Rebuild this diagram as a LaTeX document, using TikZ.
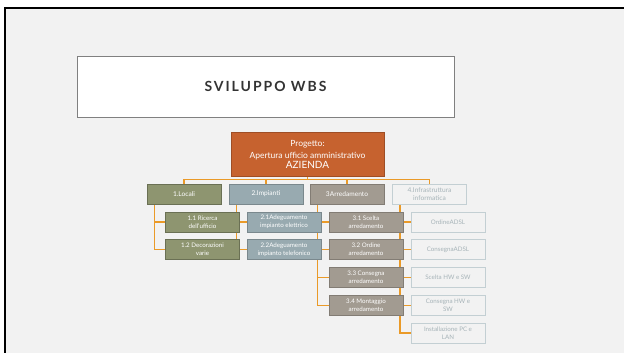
\documentclass[tikz,border=0pt]{standalone}
\usepackage{fontspec}
\setmainfont{Lato}
\newfontfamily\titlefont[LetterSpace=14]{Lato}
\usetikzlibrary{positioning,backgrounds}
\definecolor{slidegray}{HTML}{F2F2F2}
\definecolor{rootorange}{HTML}{C6622F}
\definecolor{olivebox}{HTML}{8E9570}
\definecolor{bluebox}{HTML}{98AAB0}
\definecolor{taupebox}{HTML}{A29B91}
\definecolor{paleline}{HTML}{C3CFD3}
\definecolor{paletext}{HTML}{A6B3B8}
\definecolor{linkorange}{HTML}{EA9A28}

\tikzset{
  wbsbox/.style={draw, line width=0.9pt, minimum width=74pt, minimum height=20pt,
    inner sep=1pt, align=center, text=white},
  lvlone/.style={wbsbox, font=\fontsize{6.6}{7.6}\selectfont},
  lvltwo/.style={wbsbox, font=\fontsize{6.2}{8.4}\selectfont},
  locali/.style={fill=olivebox, draw=olivebox!75!black},
  impianti/.style={fill=bluebox, draw=bluebox!80!black},
  arredo/.style={fill=taupebox, draw=taupebox!80!black},
  infra/.style={fill=slidegray, draw=paleline, text=paletext},
  link/.style={draw=linkorange, line width=1.3pt}
}

\begin{document}
\begin{tikzpicture}[x=1pt, y=-1pt]
\useasboundingbox (0,0) rectangle (624,353);

% title box
\node[draw=black!50, fill=white, line width=0.8pt, minimum width=377pt, minimum height=61pt,
  font=\titlefont\fontsize{14}{16}\selectfont\bfseries, text=black!80] (title) at (265.5,86.5) {SVILUPPO WBS};

% root
\node[fill=rootorange, draw=rootorange!80!black, line width=0.9pt, minimum width=153pt, minimum height=44pt,
  inner sep=1pt, align=center, text=white, font=\fontsize{8.5}{11}\selectfont] (root) at (307.5,154)
  {Progetto:\\[1pt]Apertura ufficio amministrativo\\[-1pt]{\fontsize{10}{10}\selectfont AZIENDA}};

% first level
\node[lvlone, locali] (loc) at (184,194) {1.Locali};
\node[lvlone, impianti] (imp) at (266,194) {2.Impianti};
\node[lvlone, arredo] (arr) at (347,194) {3Arredamento};
\node[lvlone, infra] (inf) at (429.5,194) {4.Infrastruttura\\informatica};

% second level
\node[lvltwo, locali] (l1) at (202.5,222) {1.1 Ricerca\\dell'ufficio};
\node[lvltwo, locali] (l2) at (202.5,249.5) {1.2 Decorazioni\\varie};

\node[lvltwo, impianti] (i1) at (284,222) {2.1Adeguamento\\impianto elettrico};
\node[lvltwo, impianti] (i2) at (284,249.5) {2.2Adeguamento\\impianto telefonico};

\node[lvltwo, arredo] (a1) at (366,222) {3.1 Scelta\\arredamento};
\node[lvltwo, arredo] (a2) at (366,249.5) {3.2 Ordine\\arredamento};
\node[lvltwo, arredo] (a3) at (366,277.5) {3.3 Consegna\\arredamento};
\node[lvltwo, arredo] (a4) at (366,305.5) {3.4 Montaggio\\arredamento};

\node[lvltwo, infra] (f1) at (448,222) {OrdineADSL};
\node[lvltwo, infra] (f2) at (448,249.5) {ConsegnaADSL};
\node[lvltwo, infra] (f3) at (448,277.5) {Scelta HW e SW};
\node[lvltwo, infra] (f4) at (448,305.5) {Consegna HW e\\SW};
\node[lvltwo, infra] (f5) at (448,333) {Installazione PC e\\LAN};

\begin{scope}[on background layer]
% slide
\fill[slidegray] (5,8) rectangle (624,353);
\draw[line width=2.4pt] (5,353) -- (5,8) -- (624,8);

% connectors
\coordinate (bus) at (0,179.5);
\foreach \n in {loc,imp,arr,inf}
  \draw[link] (root.south) |- (bus -| \n.north) -- (\n.north);

\foreach \p/\kids in {loc/{l1,l2}, imp/{i1,i2}, arr/{a1,a2,a3,a4}, inf/{f1,f2,f3,f4,f5}}
  \foreach \k in \kids
    \draw[link] ([xshift=8pt]\p.south west) |- (\k.west);
\end{scope}

\end{tikzpicture}
\end{document}
